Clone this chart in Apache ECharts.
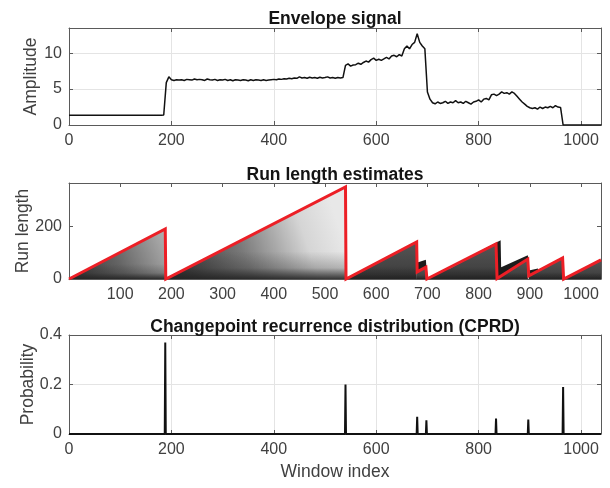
<!DOCTYPE html>
<html><head><meta charset="utf-8">
<script src="https://cdn.jsdelivr.net/npm/echarts@6/dist/echarts.min.js"></script>
<style>html,body{margin:0;padding:0;background:#fff}#c{width:610px;height:488px}</style>
</head><body><div id="c"></div>
<script>
// ---------------- DATA ----------------
// Envelope signal, sampled every envStep windows starting at 0
const envStep = 5;
const envelope = [
 1.35,1.36,1.34,1.35,1.37,1.35,1.34,1.36,1.35,1.35,
 1.36,1.34,1.35,1.37,1.35,1.36,1.34,1.35,1.36,1.35,
 1.34,1.36,1.35,1.37,1.35,1.34,1.36,1.35,1.35,1.36,
 1.34,1.35,1.37,1.36,1.35,1.34,1.36,1.40,
 5.9,6.7,6.3,6.2,6.3,6.25,6.3,6.2,6.35,6.3,
 6.25,6.4,6.3,6.35,6.3,6.2,6.4,6.3,6.25,6.35,
 6.2,6.3,6.25,6.35,6.2,6.3,6.15,6.3,6.25,6.2,
 6.3,6.25,6.15,6.3,6.2,6.3,6.25,6.2,6.3,6.2,
 6.25,6.3,6.35,6.3,6.4,6.35,6.45,6.4,6.5,6.45,
 6.55,6.5,6.7,6.55,6.6,6.5,6.65,6.55,6.6,6.5,
 6.65,6.55,6.6,6.7,6.55,6.6,6.5,6.6,6.55,6.6,
 8.3,8.5,8.2,8.35,8.4,8.6,8.45,8.7,8.9,8.75,
 9.1,9.3,9.0,9.15,9.0,9.2,9.4,9.2,9.6,9.7,
 9.5,9.8,9.6,10.6,11.0,10.6,11.2,11.5,12.7,11.5,
 11.0,10.6,4.6,3.6,3.1,2.95,3.2,3.0,3.1,3.3,
 3.0,3.2,3.1,3.4,3.1,3.2,3.0,3.3,3.1,2.9,
 3.2,3.3,3.5,3.2,3.6,3.7,3.5,4.2,4.3,4.1,
 4.3,4.6,4.4,4.5,4.3,4.6,4.4,4.0,3.6,3.2,
 2.9,2.6,2.4,2.3,2.4,2.2,2.5,2.3,2.5,2.4,
 2.6,2.4,2.7,2.5,2.45,
 0,0,0,0,0,0,0,0,0,0,0,0,0,0,0,0
];

// MAP run length (red line)
const rlX = [0, 188, 189, 192, 540, 541, 679, 680, 697, 699, 740, 742, 834, 836, 896, 898, 964, 966, 1039];
const rlY = [0, 190,   0,   3, 350,   0, 141,  27,  45,   0,  41,  38, 133,   2,  76,  12,  80,   0,  73];

// Run-length posterior shading regions: [window index, run length] outlines
const shadeTri1 = [[0,0],[188,190],[188,0]];
const shadeTri2 = [[190,0],[540,350],[540,0]];
const shadeTri3 = [[541,0],[679,141],[679,0]];
const shadeTri3b = [[679,0],[679,27],[697,45],[697,0]];
const shadeTri4 = [[699,0],[740,41],[742,38],[834,133],[834,0]];
const shadeTri5 = [[836,0],[836,2],[896,76],[896,0]];
const shadeTri6 = [[898,0],[898,12],[964,80],[964,0]];
const shadeTri7 = [[966,0],[1039,73],[1039,0]];
const blackPatchA = [[679,27],[679,62],[697,73],[698,45]];
const blackPatchB = [[740,41],[843,147],[844,45],[896,90],[897,77],[836,2],[834,133]];
const blackPatchC = [[898,12],[898,32],[916,40],[916,30]];

// Changepoint recurrence distribution
const cprdIdx = [188, 540, 680, 698, 834, 897, 965];
const cprdVal = [0.37, 0.20, 0.07, 0.055, 0.062, 0.058, 0.19];

const xMax = 1039;
const titles = ['Envelope signal', 'Run length estimates', 'Changepoint recurrence distribution (CPRD)'];
const yNames = ['Amplitude', 'Run length', 'Probability'];
const xName = 'Window index';

// ---------------- CHART ----------------
const FONT = '"Liberation Sans", Arial, Helvetica, sans-serif';
const AX = '#5a5a5a', TXT = '#404040', GRID = '#e4e4e4';
const G = echarts.graphic;

const shapeList = [
  {pts: shadeTri1, kind: 'tri1'},
  {pts: shadeTri2, kind: 'tri2'},
  {pts: shadeTri3, kind: 'dark'},
  {pts: shadeTri3b, kind: 'dark'},
  {pts: shadeTri4, kind: 'dark'},
  {pts: shadeTri5, kind: 'dark'},
  {pts: shadeTri6, kind: 'dark'},
  {pts: shadeTri7, kind: 'dark'},
  {pts: blackPatchA, kind: 'black'},
  {pts: blackPatchB, kind: 'black'},
  {pts: blackPatchC, kind: 'black'}
];
function fillFor(kind) {
  if (kind === 'tri1') return new G.LinearGradient(0, 1, 1, 0.1, [
    {offset: 0, color: '#2e2e2e'}, {offset: 0.5, color: '#666'}, {offset: 1, color: '#b0b0b0'}]);
  if (kind === 'tri2') return new G.LinearGradient(0, 1, 0.95, 0.35, [
    {offset: 0, color: '#2a2a2a'}, {offset: 0.45, color: '#7a7a7a'}, {offset: 0.8, color: '#d5d5d5'}, {offset: 1, color: '#e8e8e8'}]);
  if (kind === 'dark') return new G.LinearGradient(0, 1, 0, 0, [
    {offset: 0, color: '#2c2c2c'}, {offset: 0.35, color: '#444'}, {offset: 1, color: '#555'}]);
  return '#1c1c1c';
}
const overlay = () => new G.LinearGradient(0, 1, 0, 0, [
  {offset: 0, color: 'rgba(35,35,35,0.9)'}, {offset: 0.12, color: 'rgba(35,35,35,0.25)'}, {offset: 0.3, color: 'rgba(35,35,35,0)'}, {offset: 1, color: 'rgba(35,35,35,0)'}]);

function fmtX(step) { return v => (v % step === 0 && v <= 1000) ? String(v) : ''; }

const gridDefs = [
  {left: 69, right: 9, top: 28, height: 97},
  {left: 69, right: 9, top: 183, height: 96},
  {left: 69, right: 9, top: 335, height: 99}
];
const yDefs = [
  {min: 0, max: 13.5, interval: 5, fmt: v => (v % 5 === 0) ? String(v) : ''},
  {min: 0, max: 365, interval: 200, fmt: v => (v % 200 === 0) ? String(v) : ''},
  {min: 0, max: 0.4, interval: 0.2, fmt: v => { const r = Math.round(v * 10) / 10; return Math.abs(r - v) < 1e-9 ? String(r) : ''; }}
];
const yNameGaps = [29, 37, 32];
const xDefs = [
  {interval: 200, fmt: fmtX(200), split: true},
  {interval: 100, fmt: v => (v % 100 === 0 && v > 0 && v <= 1000) ? String(v) : '', split: false},
  {interval: 200, fmt: fmtX(200), split: true}
];

const xAxis = [], yAxis = [];
for (let g = 0; g < 3; g++) {
  xAxis.push({
    type: 'value', gridIndex: g, min: 0, max: xMax, interval: xDefs[g].interval, position: 'bottom',
    axisLine: {show: true, onZero: false, lineStyle: {color: AX, width: 1}},
    axisTick: {show: true, inside: true, length: 4, lineStyle: {color: AX}},
    axisLabel: {color: TXT, fontSize: 16, fontFamily: FONT, margin: 8, formatter: xDefs[g].fmt, showMaxLabel: true, showMinLabel: true},
    splitLine: {show: xDefs[g].split, lineStyle: {color: GRID, width: 1}},
    name: g === 2 ? xName : '', nameLocation: 'middle', nameGap: 29, nameMoveOverlap: false,
    nameTextStyle: {color: TXT, fontSize: 17.5, fontFamily: FONT}
  });
  yAxis.push({
    type: 'value', gridIndex: g, min: yDefs[g].min, max: yDefs[g].max, interval: yDefs[g].interval, position: 'left',
    axisLine: {show: true, onZero: false, lineStyle: {color: AX, width: 1}},
    axisTick: {show: true, inside: true, length: 4, lineStyle: {color: AX}},
    axisLabel: {color: TXT, fontSize: 16, fontFamily: FONT, margin: 7, formatter: yDefs[g].fmt, showMaxLabel: true, showMinLabel: true},
    splitLine: {show: g !== 1, lineStyle: {color: GRID, width: 1}},
    name: yNames[g], nameLocation: 'middle', nameGap: yNameGaps[g], nameMoveOverlap: false,
    nameTextStyle: {color: TXT, fontSize: 17.5, fontFamily: FONT}
  });
}
for (let g = 0; g < 3; g++) {
  xAxis.push({
    type: 'value', gridIndex: g, min: 0, max: xMax, interval: xDefs[g].interval, position: 'top',
    axisLine: {show: true, onZero: false, lineStyle: {color: AX, width: 1}},
    axisTick: {show: true, inside: true, length: 4, lineStyle: {color: AX}},
    axisLabel: {show: false}, splitLine: {show: false}
  });
  yAxis.push({
    type: 'value', gridIndex: g, min: yDefs[g].min, max: yDefs[g].max, interval: yDefs[g].interval, position: 'right',
    axisLine: {show: true, onZero: false, lineStyle: {color: AX, width: 1}},
    axisTick: {show: true, inside: true, length: 4, lineStyle: {color: AX}},
    axisLabel: {show: false}, splitLine: {show: false}
  });
}

const cprdLine = [[0, 0]];
cprdIdx.forEach((ix, k) => { cprdLine.push([ix - 1, 0], [ix, cprdVal[k]], [ix + 1, 0]); });
cprdLine.push([xMax, 0]);

const option = {
  animation: false,
  backgroundColor: '#fff',
  textStyle: {fontFamily: FONT},
  title: titles.map((t, i) => ({
    text: t, left: 330, top: [5, 161, 313][i], textAlign: 'center',
    textStyle: {fontSize: 17.5, fontWeight: 'bold', color: '#141414', fontFamily: FONT}
  })),
  grid: gridDefs,
  xAxis, yAxis,
  series: [
    {
      type: 'line', xAxisIndex: 0, yAxisIndex: 0, showSymbol: false, symbol: 'none',
      data: envelope.map((v, i) => [i * envStep, v]),
      lineStyle: {color: '#111', width: 1.5}, z: 3, clip: true
    },
    {
      type: 'custom', xAxisIndex: 1, yAxisIndex: 1, z: 2, silent: true, clip: true,
      data: shapeList.map((s, i) => [i, 0]),
      renderItem: (params, api) => {
        const s = shapeList[api.value(0)];
        const pts = s.pts.map(p => api.coord(p));
        const children = [{type: 'polygon', shape: {points: pts}, style: {fill: fillFor(s.kind)}}];
        if (s.kind !== 'black') children.push({type: 'polygon', shape: {points: pts}, style: {fill: overlay()}});
        return {type: 'group', children};
      }
    },
    {
      type: 'line', xAxisIndex: 1, yAxisIndex: 1, showSymbol: false, symbol: 'none',
      data: rlX.map((x, i) => [x, rlY[i]]),
      lineStyle: {color: '#ec1f26', width: 3, join: 'miter'}, z: 4, clip: false
    },
    {
      type: 'line', xAxisIndex: 2, yAxisIndex: 2, showSymbol: false, symbol: 'none',
      data: cprdLine,
      lineStyle: {color: '#111', width: 2}, z: 3, clip: false
    }
  ]
};
const chart = echarts.init(document.getElementById('c'), null, {renderer: 'canvas'});
chart.setOption(option);
</script></body></html>
